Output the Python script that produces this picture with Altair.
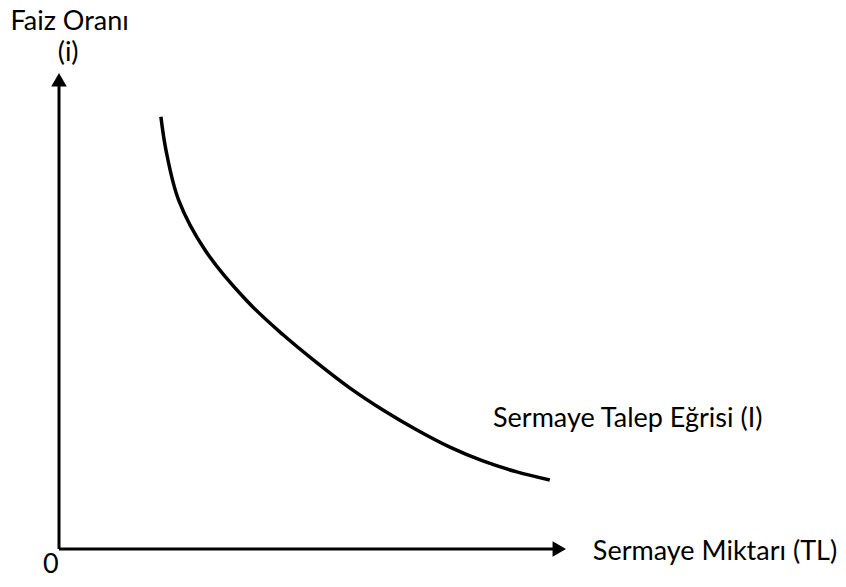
import altair as alt
import pandas as pd

# Capital demand curve (arbitrary units, axes run 0..10)
sermaye = [2.01, 2.11, 2.36, 2.88, 3.69, 4.42, 5.09, 5.74,
           6.39, 7.06, 7.71, 8.36, 9.03, 9.68]
faiz = [9.08, 8.38, 7.33, 6.28, 5.23, 4.50, 3.91, 3.38,
        2.92, 2.50, 2.14, 1.85, 1.62, 1.45]
axis_max = 10

y_title = "Faiz Oranı"
y_symbol = "(i)"
x_title = "Sermaye Miktarı (TL)"
curve_label = "Sermaye Talep Eğrisi (I)"
origin_label = "0"

FONT = "Lato"
FS = 27

df = pd.DataFrame({"x": sermaye, "y": faiz})

X = alt.Scale(domain=[0, axis_max], range=[51, 558], nice=False, zero=False)
Y = alt.Scale(domain=[0, axis_max], range=[541, 65], nice=False, zero=False)


def xe(v):
    return alt.X(datum=v, type="quantitative", scale=X, axis=None)


def ye(v):
    return alt.Y(datum=v, type="quantitative", scale=Y, axis=None)


curve = alt.Chart(df).mark_line(
    color="black", strokeWidth=3.5, interpolate="catmull-rom", clip=False
).encode(
    x=alt.X("x:Q", scale=X, axis=None),
    y=alt.Y("y:Q", scale=Y, axis=None),
)

base = alt.Chart(pd.DataFrame({"d": [0]}))

y_axis = base.mark_rule(color="black", strokeWidth=3, y2Offset=8).encode(
    x=xe(0), y=ye(0), y2=alt.Y2(datum=axis_max)
)
x_axis = base.mark_rule(color="black", strokeWidth=3, x2Offset=-8).encode(
    x=xe(0), x2=alt.X2(datum=axis_max), y=ye(0)
)
y_arrow = base.mark_point(
    shape="triangle-up", filled=True, size=240, color="black", opacity=1,
    strokeWidth=0, yOffset=6.7
).encode(x=xe(0), y=ye(axis_max))
x_arrow = base.mark_point(
    shape="triangle-right", filled=True, size=240, color="black", opacity=1,
    strokeWidth=0, xOffset=-6.7
).encode(x=xe(axis_max), y=ye(0))


def label(text, xv, yv, align):
    return base.mark_text(
        text=text, font=FONT, fontSize=FS, color="black", align=align,
        baseline="alphabetic"
    ).encode(x=xe(xv), y=ye(yv))


labels = [
    label(y_title, 0.21, 10.91, "center"),
    label(y_symbol, 0.18, 10.25, "center"),
    label(curve_label, 8.56, 2.56, "left"),
    label(x_title, 10.53, -0.23, "left"),
    label(origin_label, -0.16, -0.51, "center"),
]

chart = alt.layer(curve, y_axis, x_axis, y_arrow, x_arrow, *labels).properties(
    width=830, height=571, padding=0, autosize="none", background="white"
).configure_view(stroke=None)

chart.save("out.html", embed_options={"renderer": "svg", "actions": False})
